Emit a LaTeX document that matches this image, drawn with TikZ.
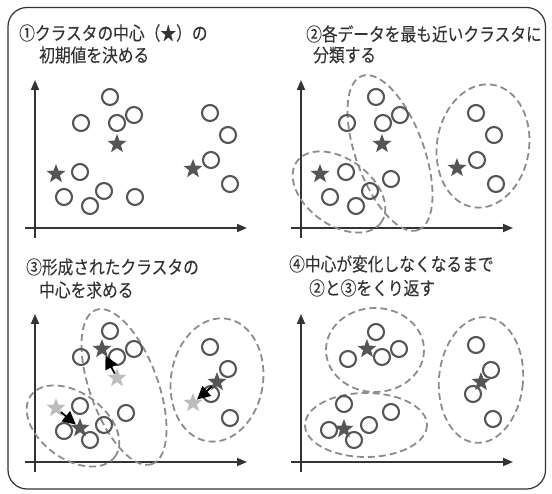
\documentclass[tikz,border=0pt]{standalone}
\usepackage{fontspec}
\setmainfont{Noto Sans CJK JP}[FakeStretch=0.85,FakeBold=0.1]
\usetikzlibrary{positioning,shapes.geometric,arrows.meta}

\definecolor{ink}{HTML}{333333}
\definecolor{pointgray}{HTML}{555555}
\definecolor{dashgray}{HTML}{8C8C8C}
\definecolor{oldgray}{HTML}{BDBDBD}

% data points shared by panels 1-3
\newcommand{\basepoints}{110/97,81/123,117/123,134/115,80/172,64/197,90/206,104/191,210/113,228/135,211/160,230/184}
\newcommand{\finalpoints}{110/98,82/125,116/123,133/115,78/170,63/196,88/206,103/191,125/178,210/111,225/136,207/160,227/185}

\begin{document}
\begin{tikzpicture}[x=1pt,y=-1pt,
    datum/.style={circle,draw=pointgray,line width=2.1pt,minimum size=16pt,inner sep=0pt},
    centre/.style={star,star points=5,star point ratio=2.4,fill=pointgray,inner sep=0pt,minimum size=20pt},
    oldcentre/.style={centre,fill=oldgray},
    cluster/.style={draw=dashgray,line width=1.8pt,dash pattern=on 7pt off 4pt},
    axis/.style={draw=ink,line width=1.8pt,-{Triangle[length=10pt,width=8pt]}},
    move/.style={draw=black,line width=1.8pt,-{Triangle[length=13pt,width=13pt]}},
    caption/.style={anchor=west,inner sep=0pt,text=ink,font=\fontsize{18.5}{20}\selectfont}]
  \useasboundingbox (0,0) rectangle (552,494);
  \draw[ink,line width=1.2pt,rounded corners=19pt] (8,7.5) rectangle (545.5,489);

  % captions
  \node[caption] (t1a) at (19,33) {①クラスタの中心（★）の};
  \node[caption] (t1b) at (39,55) {初期値を決める};
  \node[caption] (t2a) at (306,34) {②各データを最も近いクラスタに};
  \node[caption] (t2b) at (313,55) {分類する};
  \node[caption] (t3a) at (26,267) {③形成されたクラスタの};
  \node[caption] (t3b) at (39,290) {中心を求める};
  \node[caption] (t4a) at (289,264) {④中心が変化しなくなるまで};
  \node[caption] (t4b) at (309,288) {②と③をくり返す};

  % axes
  \foreach \dx/\dy in {0/0,266/0,0/234,266/234} {
    \draw[axis] (35+\dx,238+\dy) -- (35+\dx,80+\dy);
    \draw[axis] (25+\dx,228+\dy) -- (247+\dx,228+\dy);
  }

  % 1: initial centres
  \begin{scope}
    \foreach \x/\y [count=\i] in \basepoints
      \node[datum] (a\i) at (\x,\y) {};
    \node[datum] (a13) at (135,197) {};
    \node[centre] (sa1) at (56,174) {};
    \node[centre] (sa2) at (117,144) {};
    \node[centre] (sa3) at (193,169) {};
  \end{scope}

  % 2: assign to nearest centre
  \begin{scope}[shift={(266,0)}]
    \draw[cluster,rotate around={-36:(73,192)}] (73,192) ellipse [x radius=52,y radius=33];
    \draw[cluster,rotate around={-70:(124,153)}] (124,153) ellipse [x radius=82,y radius=34];
    \draw[cluster,rotate around={-9:(217,146)}] (217,146) ellipse [x radius=46,y radius=62];
    \foreach \x/\y [count=\i] in \basepoints
      \node[datum] (b\i) at (\x,\y) {};
    \node[datum] (b13) at (125,179) {};
    \node[centre] (sb1) at (54,174) {};
    \node[centre] (sb2) at (116,144) {};
    \node[centre] (sb3) at (191,168) {};
  \end{scope}

  % 3: recompute centres
  \begin{scope}[shift={(0,234)}]
    \draw[cluster,rotate around={-36:(73,192)}] (73,192) ellipse [x radius=52,y radius=33];
    \draw[cluster,rotate around={-70:(124,153)}] (124,153) ellipse [x radius=82,y radius=34];
    \draw[cluster,rotate around={-9:(217,146)}] (217,146) ellipse [x radius=46,y radius=62];
    \foreach \x/\y [count=\i] in \basepoints
      \node[datum] (c\i) at (\x,\y) {};
    \node[datum] (c13) at (126,179) {};
    \node[oldcentre] (oc1) at (56,174) {};
    \node[oldcentre] (oc2) at (117,144) {};
    \node[oldcentre] (oc3) at (193,169) {};
    \node[centre] (sc1) at (80,194) {};
    \node[centre] (sc2) at (102,115) {};
    \node[centre] (sc3) at (217,148) {};
    \draw[move] (oc1) -- (sc1);
    \draw[move] (oc2) -- (sc2);
    \draw[move] (sc3) -- (oc3);
  \end{scope}

  % 4: repeat until stable
  \begin{scope}[shift={(266,234)}]
    \draw[cluster] (109,116) ellipse [x radius=49,y radius=42];
    \draw[cluster] (100,191) ellipse [x radius=61,y radius=32];
    \draw[cluster,rotate around={-5:(215,146)}] (215,146) ellipse [x radius=42,y radius=63];
    \foreach \x/\y [count=\i] in \finalpoints
      \node[datum] (d\i) at (\x,\y) {};
    \node[centre] (sd1) at (101,115) {};
    \node[centre] (sd2) at (78,195) {};
    \node[centre] (sd3) at (215,148) {};
  \end{scope}
\end{tikzpicture}
\end{document}
